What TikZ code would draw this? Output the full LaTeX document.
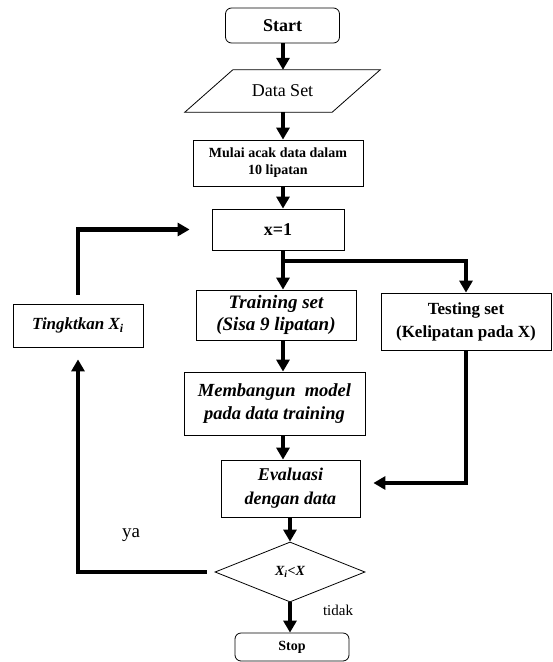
\documentclass[tikz,border=0pt]{standalone}
\usepackage{fontspec}
\setmainfont{Liberation Serif}
\usetikzlibrary{arrows.meta,shapes.geometric,calc}
\tikzset{>={Triangle[width=13pt,length=12pt]}}

\begin{document}
\begin{tikzpicture}[x=1pt, y=-1pt, box/.style = {draw, line width=0.8pt, align=center, inner sep=1pt}, rbox/.style = {box, rounded corners=6pt}, flow/.style = {line width=4.5pt, ->}, bf/.style 2 args = {font=\fontsize{#1}{#2}\selectfont\bfseries}, bfit/.style 2 args = {font=\fontsize{#1}{#2}\selectfont\bfseries\itshape}]
    \useasboundingbox (0,0) rectangle (553,662);
    \coordinate (axis) at (283,0);

    \node[rbox, bf={18}{22}, minimum width=114pt, minimum height=35pt] (start) at (282.5,25.5) {Start};
    \node[font=\fontsize{18}{22}\selectfont, minimum width=99pt, minimum height=42pt] (data) at (282.5,91) {Data Set};
    \draw[line width=0.8pt] ($(data.south west)+(-48,0)$) -- (data.north west) -- ($(data.north east)+(48,0)$) -- (data.south east) -- cycle;
    \node[box, bf={14}{17}, minimum width=170pt, minimum height=46pt] (mulai) at (278,163) {Mulai acak data dalam\\10 lipatan};
    \node[box, bf={18}{22}, minimum width=132pt, minimum height=41pt] (x1) at (278,229.5) {x=1};
    \node[box, bfit={19}{22}, minimum width=160pt, minimum height=50pt] (training) at (276,315) {Training set\\(Sisa 9 lipatan)};
    \node[box, bf={17}{23}, minimum width=170pt, minimum height=57pt] (testing) at (466,321.5) {Testing set\\(Kelipatan pada X)};
    \node[box, bfit={17}{20}, minimum width=130pt, minimum height=43pt] (tingkat) at (78,325.5) {Tingktkan X\textsubscript{i}};
    \node[box, bfit={18.5}{23}, minimum width=181pt, minimum height=63pt] (model) at (274.5,403.5) {Membangun\ \ model\\pada data training};
    \node[box, bfit={18}{24}, minimum width=139pt, minimum height=57pt] (eval) at (290.5,488.5) {Evaluasi\\dengan data};
    \node[draw, line width=0.8pt, diamond, inner sep=0pt, bfit={14}{17}, minimum width=150pt, minimum height=60pt] (cek) at (290,572) {X\textsubscript{i}<X};
    \node[rbox, bf={14}{17}, minimum width=114pt, minimum height=28pt] (stop) at (292,647) {Stop};
    \node[font=\fontsize{19}{22}\selectfont] (ya) at (131,535) {ya};
    \node[font=\fontsize{15}{18}\selectfont] (tidak) at (338,610) {tidak};

    \coordinate (split) at (283,261);
    \draw[flow] (axis |- start.south) -- (axis |- data.north);
    \draw[flow] (axis |- data.south) -- (axis |- mulai.north);
    \draw[flow] (axis |- mulai.south) -- (axis |- x1.north);
    \draw[flow] (axis |- x1.south) -- (axis |- training.north);
    \draw[flow] (split) -| (testing.north);
    \draw[flow] (axis |- training.south) -- (axis |- model.north);
    \draw[flow] (axis |- model.south) -- (axis |- eval.north);
    \draw[flow, shorten >=13pt] (testing.south) |- ([yshift=5.5pt]eval.east);
    \draw[flow] (cek.north |- eval.south) -- (cek.north);
    \draw[flow] (cek.south) -- (cek.south |- stop.north);
    \draw[flow, shorten <=8pt, shorten >=12pt] (cek.west) -| (tingkat.south);
    \draw[flow, shorten <=9pt, shorten >=22pt] (tingkat.north) |- (x1.west);
\end{tikzpicture}
\end{document}
